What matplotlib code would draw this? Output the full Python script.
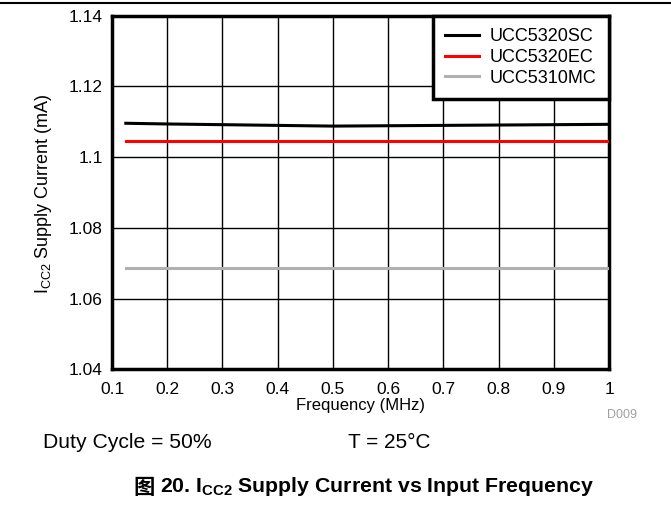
import matplotlib
matplotlib.use("Agg")
import matplotlib.pyplot as plt
from matplotlib.lines import Line2D

plt.rcParams['font.family'] = ['Liberation Sans', 'Noto Sans CJK SC', 'DejaVu Sans']

freq = [0.125, 0.2, 0.3, 0.4, 0.5, 0.6, 0.7, 0.8, 0.9, 1.0]
sc = [1.1096, 1.1094, 1.1092, 1.1090, 1.1088, 1.1089, 1.1090, 1.1091, 1.1092, 1.1093]
ec = [1.1045] * len(freq)
mc = [1.0686] * len(freq)
series_names = ["UCC5320SC", "UCC5320EC", "UCC5310MC"]
xticks = [0.1, 0.2, 0.3, 0.4, 0.5, 0.6, 0.7, 0.8, 0.9, 1.0]
xticklabels = ["0.1", "0.2", "0.3", "0.4", "0.5", "0.6", "0.7", "0.8", "0.9", "1"]
yticks = [1.04, 1.06, 1.08, 1.1, 1.12, 1.14]
yticklabels = ["1.04", "1.06", "1.08", "1.1", "1.12", "1.14"]

fig = plt.figure(figsize=(6.71, 5.08), dpi=100)
W, H = 671, 508
ax = fig.add_axes([112 / W, 1 - 369.3 / H, (609 - 112) / W, (369.3 - 15.8) / H])

ax.plot(freq, sc, color='black', lw=2.2, label=series_names[0], zorder=3)
ax.plot(freq, ec, color='#ff0000', lw=2.2, label=series_names[1], zorder=3)
ax.plot(freq, mc, color='#b0b0b0', lw=2.2, label=series_names[2], zorder=3)

ax.set_xlim(0.1, 1.0)
ax.set_ylim(1.04, 1.14)
ax.set_xticks(xticks)
ax.set_xticklabels(xticklabels)
ax.set_yticks(yticks)
ax.set_yticklabels(yticklabels)
ax.grid(True, color='black', lw=1.0)
ax.set_axisbelow(True)
for s in ax.spines.values():
    s.set_linewidth(2.5)
ax.tick_params(axis='both', length=0, labelsize=12.5, colors='black')
ax.tick_params(axis='x', pad=9)
ax.tick_params(axis='y', pad=6.5)

ax.set_xlabel("Frequency (MHz)", fontsize=12, labelpad=1)
ylab = fig.text(44 / W, 1 - 193.5 / H, "I$_{\\mathregular{CC2}}$ Supply Current (mA)",
                fontsize=13, rotation=90, va='center', ha='center')

leg = ax.legend(loc='upper right', fontsize=13, frameon=True, fancybox=False,
                borderaxespad=0, handlelength=1.85, handletextpad=0.6,
                labelspacing=0.2, borderpad=0.7, framealpha=1)
leg.get_frame().set_edgecolor('black')
leg.get_frame().set_linewidth(2.5)

# top rule
fig.add_artist(Line2D([0, 1], [1 - 3 / H, 1 - 3 / H], color='black', lw=1.5))

fig.text(607 / W, 1 - 415 / H, "D009", fontsize=9, color='#a0a0a0', va='center', ha='left')
fig.text(43 / W, 1 - 442 / H, "Duty Cycle = 50%", fontsize=15.2, va='center', ha='left')
fig.text(348 / W, 1 - 442 / H, "T = 25°C", fontsize=15, va='center', ha='left')

# caption: CJK glyph then the latin part with subscript
t1 = fig.text(133 / W, 1 - 487 / H, "图", fontsize=15.3, fontweight='bold',
              family=['Noto Sans CJK SC'], va='center', ha='left')
fig.canvas.draw()
bb = t1.get_window_extent()
t2 = fig.text((bb.x1 + 6) / W, 1 - 487 / H,
              "20. I$_{\\mathregular{CC2}}$ Supply Current vs Input Frequency",
              fontsize=15.3, fontweight='bold', va='center', ha='left')

fig.savefig("out.png", dpi=100)
